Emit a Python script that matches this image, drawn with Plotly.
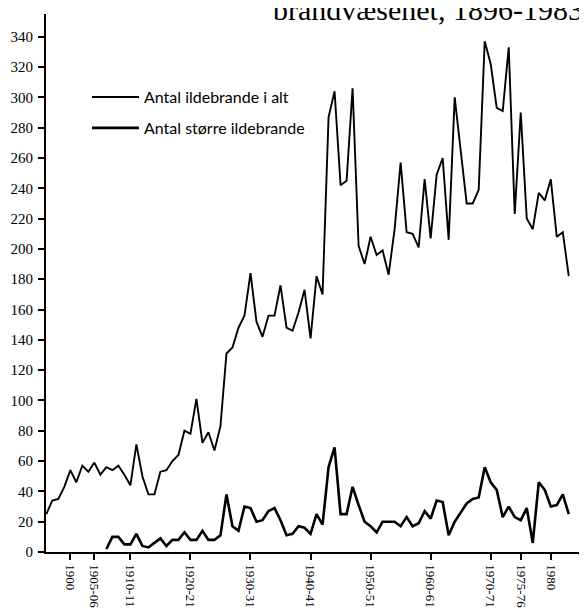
import plotly.graph_objects as go

# ---------------- data ----------------
years_total = list(range(1896, 1984))
total_fires = [
    25, 34, 35, 43, 54, 46, 57, 53, 59, 51,      # 1896-1905
    56, 54, 57, 51, 44, 71, 50, 38, 38, 53,      # 1906-1915
    54, 60, 64, 80, 78, 101, 72, 79, 67, 83,     # 1916-1925
    131, 135, 148, 156, 184, 152, 142, 156, 156, 176,  # 1926-1935
    148, 146, 158, 173, 141, 182, 170, 287, 304, 242,  # 1936-1945
    245, 306, 202, 190, 208, 196, 199, 183, 213, 257,  # 1946-1955
    211, 210, 201, 246, 207, 249, 260, 206, 300, 263,  # 1956-1965
    230, 230, 239, 337, 322, 293, 291, 333, 223, 290,  # 1966-1975
    220, 213, 237, 232, 246, 208, 211, 182,            # 1976-1983
]

years_major = list(range(1906, 1984))
major_fires = [
    2, 10, 10, 5, 5, 12, 4, 3, 6, 9,             # 1906-1915
    4, 8, 8, 13, 8, 8, 14, 8, 8, 11,             # 1916-1925
    38, 17, 14, 30, 29, 20, 21, 27, 29, 21,      # 1926-1935
    11, 12, 17, 16, 12, 25, 18, 56, 69, 25,      # 1936-1945
    25, 43, 31, 20, 17, 13, 20, 20, 20, 17,      # 1946-1955
    23, 17, 19, 27, 22, 34, 33, 11, 20, 26,      # 1956-1965
    32, 35, 36, 56, 46, 41, 23, 30, 23, 21,      # 1966-1975
    29, 6, 46, 41, 30, 31, 38, 25,               # 1976-1983
]

tick_years = [1900, 1904, 1910, 1920, 1930, 1940, 1950, 1960, 1970, 1975, 1980]
tick_labels = ["1900", "1905-06", "1910-11", "1920-21", "1930-31", "1940-41",
               "1950-51", "1960-61", "1970-71", "1975-76", "1980"]
y_ticks = list(range(0, 341, 20))

series_names = ["Antal ildebrande i alt", "Antal større ildebrande"]
title_text = "brandvæsenet, 1896-1983*"

# ---------------- figure ----------------
fig = go.Figure()
fig.add_trace(go.Scatter(
    x=years_total, y=total_fires, mode="lines", name=series_names[0],
    line=dict(color="black", width=1.9), legendgroup="a",
))
fig.add_trace(go.Scatter(
    x=years_major, y=major_fires, mode="lines", name=series_names[1],
    line=dict(color="black", width=2.6), legendgroup="b",
))

# the page body adds an 8px margin, so the figure is sized/offset to compensate
fig.update_layout(
    width=579, height=608,
    margin=dict(l=38, r=2, t=6, b=64),
    paper_bgcolor="white", plot_bgcolor="white",
    showlegend=True,
    legend=dict(
        x=0.076, y=0.877, xanchor="left", yanchor="top",
        bgcolor="rgba(0,0,0,0)", borderwidth=0,
        font=dict(family="Lato", size=16, color="black"),
        tracegroupgap=7, itemwidth=47,
    ),
    annotations=[dict(
        text=title_text, xref="paper", yref="paper",
        x=0.417, y=1.0, xanchor="left", yanchor="bottom", yshift=-14,
        showarrow=False,
        font=dict(family="Liberation Serif", size=30, color="black"),
    )],
)

fig.update_xaxes(
    range=[1895.95, 1985.7],
    tickmode="array", tickvals=tick_years, ticktext=tick_labels,
    tickangle=90, ticks="outside", ticklen=6, tickwidth=1.5, tickcolor="black",
    showline=True, linecolor="black", linewidth=1.5,
    showgrid=False, zeroline=False, ticklabelstandoff=2,
    tickfont=dict(family="Liberation Serif", size=13, color="black"),
)
fig.update_yaxes(
    range=[0, 355],
    tickmode="array", tickvals=y_ticks,
    ticks="outside", ticklen=6, tickwidth=1.5, tickcolor="black",
    showline=True, linecolor="black", linewidth=2,
    showgrid=False, zeroline=False, ticklabelstandoff=2,
    tickfont=dict(family="Liberation Serif", size=15, color="black"),
)

fig.write_html("out.html")
